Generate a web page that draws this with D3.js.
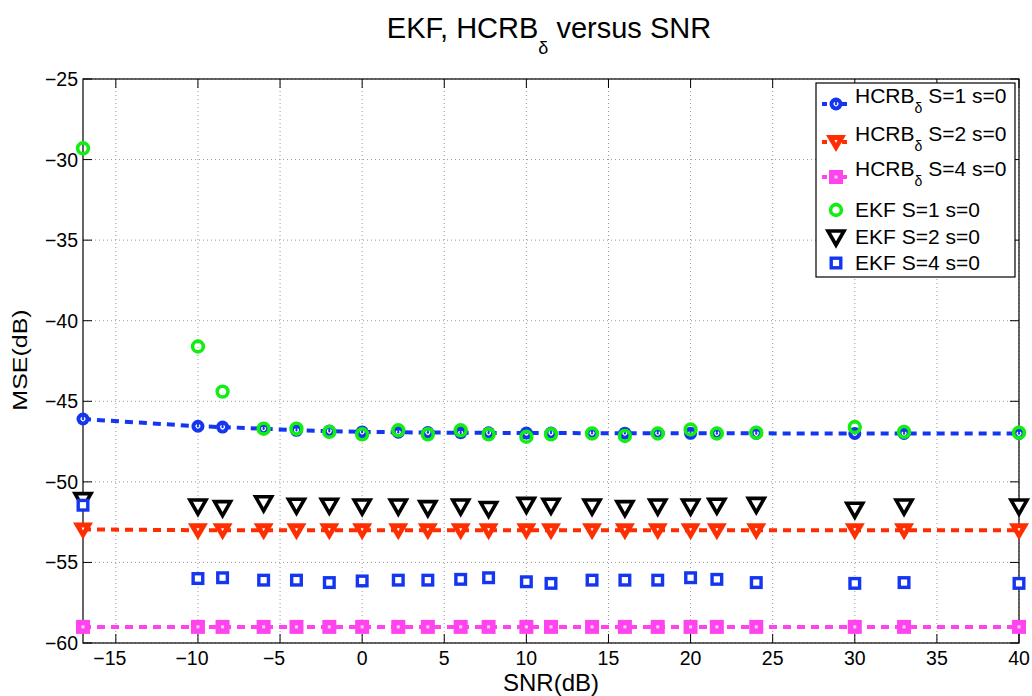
<!DOCTYPE html>
<html>
<head>
<meta charset="utf-8">
<script src="https://d3js.org/d3.v7.min.js"></script>
<style>
body { margin: 0; background: #fff; font-family: 'Liberation Sans', Arial, sans-serif; }
.grid line { stroke: #999; stroke-width: 1; stroke-dasharray: 1,3; }
.tick-label { font-size: 19.5px; fill: #000; }
</style>
</head>
<body>
<div id="plot"></div>
<script>

var width = 1032;
var height = 696;
var margin = { left: 83, right: 13, top: 79, bottom: 53 };

// x positions (SNR, dB)
var snr = [-17, -10, -8.5, -6, -4, -2, 0, 2.2, 4, 6, 7.7, 10, 11.5, 14, 16, 18, 20, 21.6, 24, 30, 33, 40];

// series values (MSE, dB)
var hcrbS1 = [-46.1, -46.55, -46.6, -46.7, -46.8, -46.85, -46.9, -46.92, -46.94, -46.95, -46.96, -46.97, -46.97, -46.98, -46.98, -46.98, -46.99, -46.99, -46.99, -47.0, -47.0, -47.0];
var hcrbS2 = [-52.95, -53.0, -53.0, -53.0, -53.0, -53.0, -53.0, -53.0, -53.0, -53.0, -53.0, -53.0, -53.0, -53.0, -53.0, -53.0, -53.0, -53.0, -53.0, -53.0, -53.0, -53.0];
var hcrbS4 = [-59.0, -59.0, -59.0, -59.0, -59.0, -59.0, -59.0, -59.0, -59.0, -59.0, -59.0, -59.0, -59.0, -59.0, -59.0, -59.0, -59.0, -59.0, -59.0, -59.0, -59.0, -59.0];
var ekfS1 = [-29.3, -41.6, -44.4, -46.7, -46.7, -46.9, -47.05, -46.8, -47.05, -46.8, -47.05, -47.2, -47.05, -47.0, -47.15, -47.0, -46.75, -47.0, -46.95, -46.6, -46.9, -46.95];
var ekfS2 = [-51.1, -51.5, -51.6, -51.3, -51.45, -51.45, -51.5, -51.5, -51.6, -51.5, -51.65, -51.4, -51.45, -51.5, -51.6, -51.5, -51.5, -51.45, -51.4, -51.7, -51.5, -51.5];
var ekfS4 = [-51.45, -56.0, -55.95, -56.1, -56.1, -56.25, -56.15, -56.1, -56.1, -56.05, -55.95, -56.2, -56.3, -56.1, -56.1, -56.1, -55.95, -56.05, -56.25, -56.3, -56.25, -56.3];

var xTicks = [-15, -10, -5, 0, 5, 10, 15, 20, 25, 30, 35, 40];
var yTicks = [-25, -30, -35, -40, -45, -50, -55, -60];

var blue = "#1536f0", red = "#ff2e00", magenta = "#ff44ee", green = "#11ee11";

var svg = d3.select("#plot").append("svg")
  .attr("width", width).attr("height", height);

var x = d3.scaleLinear().domain([-17, 40]).range([margin.left, width - margin.right]);
var y = d3.scaleLinear().domain([-60, -25]).range([height - margin.bottom, margin.top]);

var x0 = x.range()[0], x1 = x.range()[1], y0 = y.range()[0], y1 = y.range()[1];

// grid
var grid = svg.append("g").attr("class", "grid");
grid.selectAll("line.v").data(xTicks).enter().append("line")
  .attr("x1", x).attr("x2", x).attr("y1", y1).attr("y2", y0);
grid.selectAll("line.h").data(yTicks).enter().append("line")
  .attr("y1", y).attr("y2", y).attr("x1", x0).attr("x2", x1);

// ticks on all four sides, pointing inwards
var ticks = svg.append("g").attr("stroke", "#000").attr("stroke-width", 1);
xTicks.forEach(function (t) {
  ticks.append("line").attr("x1", x(t)).attr("x2", x(t)).attr("y1", y0).attr("y2", y0 - 9);
  ticks.append("line").attr("x1", x(t)).attr("x2", x(t)).attr("y1", y1).attr("y2", y1 + 9);
});
yTicks.forEach(function (t) {
  ticks.append("line").attr("y1", y(t)).attr("y2", y(t)).attr("x1", x0).attr("x2", x0 + 9);
  ticks.append("line").attr("y1", y(t)).attr("y2", y(t)).attr("x1", x1).attr("x2", x1 - 9);
});

svg.append("rect").attr("x", x0).attr("y", y1).attr("width", x1 - x0).attr("height", y0 - y1)
  .attr("fill", "none").attr("stroke", "#000").attr("stroke-width", 1.2);

function fmt(v) { return v < 0 ? "\u2212" + Math.abs(v) : String(v); }

// negative labels: the digits sit on the tick, the minus hangs left
svg.selectAll("text.xl").data(xTicks).enter().append("text")
  .attr("class", "tick-label").attr("x", x).attr("y", y0 + 22)
  .attr("dx", function (d) { return d < 0 ? -6 : 0; })
  .attr("text-anchor", "middle").text(fmt);
svg.selectAll("text.yl").data(yTicks).enter().append("text")
  .attr("class", "tick-label").attr("x", x0 - 5).attr("y", function (d) { return y(d) + 7; })
  .attr("text-anchor", "end").text(fmt);

svg.append("text").attr("x", 551).attr("y", 691)
  .attr("text-anchor", "middle").style("font-size", "24px").text("SNR(dB)");
svg.append("text").attr("transform", "translate(27,360) rotate(-90) scale(1,0.78)")
  .attr("text-anchor", "middle").style("font-size", "25px").text("MSE(dB)");

// title
var title = svg.append("text").attr("x", 549).attr("y", 38).attr("text-anchor", "middle")
  .style("font-size", "29px");
title.append("tspan").text("EKF, HCRB");
title.append("tspan").attr("dy", 16).style("font-size", "18px").text("\u03b4");
title.append("tspan").attr("dy", -16).text(" versus SNR");

// marker drawing
function marker(g, type, cx, cy, color) {
  if (type === "dot") {
    g.append("circle").attr("cx", cx).attr("cy", cy).attr("r", 6.5).attr("fill", color);
    g.append("path").attr("d", d3.arc()({ innerRadius: 1.2, outerRadius: 2.4, startAngle: 0.6, endAngle: 5.7 }))
      .attr("transform", "translate(" + cx + "," + cy + ")").attr("fill", "#fff");
  } else if (type === "ring") {
    g.append("circle").attr("cx", cx).attr("cy", cy).attr("r", 5.4)
      .attr("fill", "none").attr("stroke", color).attr("stroke-width", 3.6);
  } else if (type === "tri") {
    g.append("path").attr("d", "M" + (cx - 10) + "," + (cy - 7) + "L" + (cx + 10) + "," + (cy - 7) + "L" + cx + "," + (cy + 10) + "Z")
      .attr("fill", color);
    g.append("path").attr("d", "M" + (cx - 1.5) + "," + (cy - 2) + "L" + (cx + 1.5) + "," + (cy - 2) + "L" + cx + "," + (cy + 1) + "Z")
      .attr("fill", "#fff");
  } else if (type === "otri") {
    g.append("path").attr("d", "M" + (cx - 8) + "," + (cy - 6) + "L" + (cx + 8) + "," + (cy - 6) + "L" + cx + "," + (cy + 8) + "Z")
      .attr("fill", "#fff").attr("stroke", color).attr("stroke-width", 3.6).attr("stroke-linejoin", "miter");
  } else if (type === "sq") {
    g.append("rect").attr("x", cx - 7).attr("y", cy - 7).attr("width", 14).attr("height", 14).attr("fill", color);
    g.append("rect").attr("x", cx - 1.5).attr("y", cy - 1.5).attr("width", 3).attr("height", 3).attr("fill", "#ffd0fb");
  } else if (type === "osq") {
    g.append("rect").attr("x", cx - 4.8).attr("y", cy - 4.8).attr("width", 9.6).attr("height", 9.6)
      .attr("fill", "#fff").attr("stroke", color).attr("stroke-width", 3.4);
  }
}

var series = [
  { values: hcrbS1, color: blue, type: "dot", line: true, label: "HCRB", sub: true, rest: " S=1 s=0" },
  { values: hcrbS2, color: red, type: "tri", line: true, label: "HCRB", sub: true, rest: " S=2 s=0" },
  { values: hcrbS4, color: magenta, type: "sq", line: true, label: "HCRB", sub: true, rest: " S=4 s=0" },
  { values: ekfS1, color: green, type: "ring", line: false, label: "EKF S=1 s=0" },
  { values: ekfS2, color: "#000", type: "otri", line: false, label: "EKF S=2 s=0" },
  { values: ekfS4, color: blue, type: "osq", line: false, label: "EKF S=4 s=0" }
];

var lineGen = d3.line().x(function (d) { return x(d[0]); }).y(function (d) { return y(d[1]); });

series.forEach(function (s) {
  var pts = snr.map(function (v, i) { return [v, s.values[i]]; });
  var g = svg.append("g");
  if (s.line) {
    g.append("path").attr("d", lineGen(pts)).attr("fill", "none")
      .attr("stroke", s.color).attr("stroke-width", 4).attr("stroke-dasharray", "8,6");
  }
  pts.forEach(function (p) { marker(g, s.type, x(p[0]), y(p[1]), s.color); });
});

// legend
var lg = svg.append("g");
lg.append("rect").attr("x", 816).attr("y", 83).attr("width", 199).attr("height", 194)
  .attr("fill", "#fff").attr("stroke", "#000").attr("stroke-width", 1.2);
var rowY = [104, 142, 177, 210, 237, 263];
series.forEach(function (s, i) {
  var ry = rowY[i];
  if (s.line) {
    lg.append("line").attr("x1", 822).attr("x2", 850).attr("y1", ry).attr("y2", ry)
      .attr("stroke", s.color).attr("stroke-width", 4).attr("stroke-dasharray", "5,5");
  }
  marker(lg, s.type, 836, ry, s.color);
  var t = lg.append("text").attr("x", 855).attr("y", s.sub ? ry - 1 : ry + 7).style("font-size", "21px");
  if (s.sub) {
    t.append("tspan").text(s.label);
    t.append("tspan").attr("dy", 10).style("font-size", "14px").text("\u03b4");
    t.append("tspan").attr("dy", -10).text(s.rest);
  } else {
    t.text(s.label);
  }
});

</script>
</body>
</html>
